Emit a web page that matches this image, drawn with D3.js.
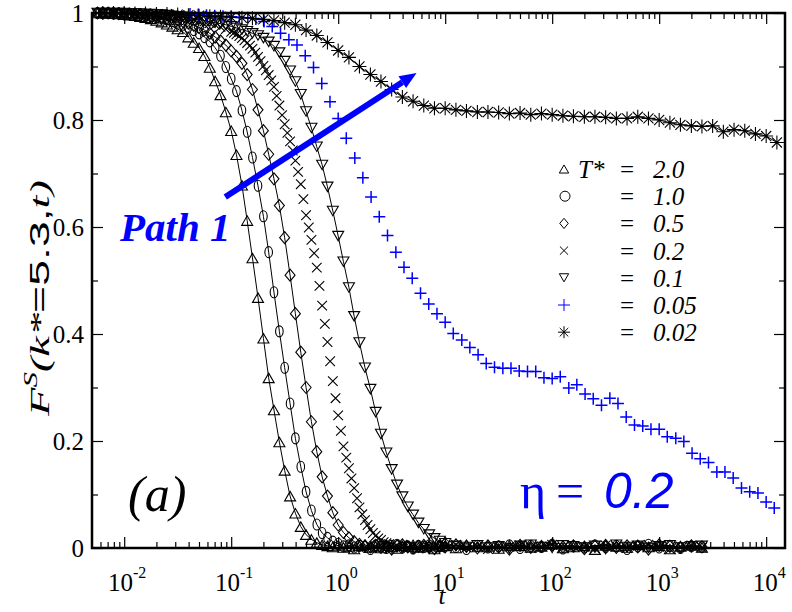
<!DOCTYPE html>
<html>
<head>
<meta charset="utf-8">
<script src="https://cdn.jsdelivr.net/npm/d3@7"></script>
<style>
  body { margin: 0; background: #fff; }
</style>
</head>
<body>
<svg id="chart" width="792" height="612"></svg>
<script>
"use strict";

// time grid shared by four of the black sets (20 per decade up to t=10, then 10 per decade)
var tGrid = [0.00562, 0.00631, 0.00708, 0.00794, 0.00891,
  0.0100, 0.0112, 0.0126, 0.0141, 0.0158, 0.0178, 0.0200, 0.0224, 0.0251, 0.0282,
  0.0316, 0.0355, 0.0398, 0.0447, 0.0501, 0.0562, 0.0631, 0.0708, 0.0794, 0.0891,
  0.100, 0.112, 0.126, 0.141, 0.158, 0.178, 0.200, 0.224, 0.251, 0.282,
  0.316, 0.355, 0.398, 0.447, 0.501, 0.562, 0.631, 0.708, 0.794, 0.891,
  1.00, 1.12, 1.26, 1.41, 1.58, 1.78, 2.00, 2.24, 2.51, 2.82,
  3.16, 3.55, 3.98, 4.47, 5.01, 5.62, 6.31, 7.08, 7.94, 8.91,
  10.0, 12.6, 15.8, 20.0, 25.1, 31.6, 39.8, 50.1, 63.1, 79.4,
  100, 126, 158, 200, 251, 316, 398, 501, 631, 794,
  1000, 1260, 1580, 2000, 2510];

// F^S(k,t) for T* = 2.0 (triangles up)
var fT20 = [1.000, 1.000, 0.999, 0.999, 0.998, 0.997, 0.996, 0.995, 0.993, 0.991,
  0.989, 0.986, 0.983, 0.979, 0.975, 0.970, 0.965, 0.955, 0.945, 0.935,
  0.920, 0.898, 0.873, 0.847, 0.815, 0.780, 0.735, 0.678, 0.612, 0.542,
  0.468, 0.392, 0.318, 0.258, 0.198, 0.145, 0.097, 0.065, 0.040, 0.025,
  0.016, 0.010, 0.006, 0.004, 0.002, 0.005, 0.001, 0.003, -0.002, 0.004,
  0.006, 0.001, 0.003, 0.000, 0.005, 0.002, -0.001, 0.004, 0.003, 0.006,
  0.001, 0.002, 0.005, -0.002, 0.003, 0.004, 0.000, 0.006, 0.002, 0.003,
  -0.001, 0.005, 0.004, 0.001, 0.003, 0.007, 0.000, 0.002, 0.004, -0.003,
  0.005, 0.003, 0.001, 0.006, 0.002, 0.004, -0.002, 0.003, 0.005, 0.001];

// T* = 1.0 (circles)
var fT10 = [1.000, 1.000, 1.000, 0.999, 0.999, 0.998, 0.998, 0.997, 0.996, 0.995,
  0.994, 0.992, 0.990, 0.988, 0.985, 0.982, 0.978, 0.974, 0.968, 0.962,
  0.955, 0.947, 0.935, 0.920, 0.899, 0.877, 0.854, 0.818, 0.778, 0.730,
  0.677, 0.620, 0.553, 0.478, 0.405, 0.337, 0.270, 0.205, 0.152, 0.105,
  0.070, 0.044, 0.028, 0.019, 0.012, 0.008, 0.003, 0.005, 0.001, 0.004,
  0.002, -0.002, 0.005, 0.003, 0.000, 0.004, 0.006, 0.001, 0.003, -0.001,
  0.004, 0.002, 0.005, 0.000, 0.003, 0.006, 0.002, -0.002, 0.004, 0.001,
  0.003, 0.005, 0.000, 0.004, 0.002, 0.006, -0.001, 0.003, 0.001, 0.005,
  0.002, 0.004, -0.002, 0.003, 0.006, 0.001, 0.004, 0.000, 0.003, 0.002];

// T* = 0.5 (diamonds)
var fT05 = [1.000, 1.000, 1.000, 1.000, 0.999, 0.999, 0.998, 0.998, 0.997, 0.996,
  0.995, 0.994, 0.993, 0.991, 0.989, 0.987, 0.984, 0.981, 0.977, 0.973,
  0.968, 0.962, 0.955, 0.948, 0.940, 0.929, 0.919, 0.906, 0.885, 0.857,
  0.819, 0.780, 0.736, 0.690, 0.640, 0.580, 0.510, 0.438, 0.366, 0.300,
  0.236, 0.180, 0.133, 0.097, 0.066, 0.043, 0.029, 0.019, 0.012, 0.007,
  0.004, 0.002, 0.005, 0.001, 0.003, -0.002, 0.004, 0.006, 0.002, 0.000,
  0.003, 0.005, 0.001, -0.001, 0.004, 0.002, 0.006, 0.003, 0.000, 0.004,
  0.002, -0.002, 0.005, 0.001, 0.003, 0.006, 0.002, 0.004, -0.001, 0.003,
  0.005, 0.001, 0.004, 0.002, -0.002, 0.006, 0.003, 0.001, 0.004, 0.002];

// T* = 0.2 (crosses) is sampled more finely through its decay
var tT02 = [0.00562, 0.00631, 0.00708, 0.00794, 0.00891,
  0.0100, 0.0112, 0.0126, 0.0141, 0.0158, 0.0178, 0.0200, 0.0224, 0.0251, 0.0282,
  0.0316, 0.0355, 0.0398, 0.0447, 0.0501, 0.0562, 0.0631, 0.0708, 0.0794, 0.0891,
  0.100, 0.106, 0.112, 0.119, 0.126, 0.133, 0.141, 0.150, 0.158, 0.168,
  0.178, 0.188, 0.200, 0.211, 0.224, 0.237, 0.251, 0.266, 0.282, 0.299,
  0.316, 0.335, 0.355, 0.376, 0.398, 0.422, 0.447, 0.473, 0.501, 0.531,
  0.562, 0.596, 0.631, 0.668, 0.708, 0.750, 0.794, 0.841, 0.891, 0.944,
  1.00, 1.06, 1.12, 1.19, 1.26, 1.33, 1.41, 1.50, 1.58, 1.68,
  1.78, 1.88, 2.00, 2.11, 2.24, 2.37, 2.51, 2.66, 2.82, 2.99, 3.16,
  3.55, 3.98, 4.47, 5.01, 5.62, 6.31, 7.08, 7.94, 8.91, 10.0,
  12.6, 15.8, 20.0, 25.1, 31.6, 39.8, 50.1, 63.1, 79.4,
  100, 126, 158, 200, 251, 316, 398, 501, 631, 794,
  1000, 1260, 1580, 2000, 2510];
var fT02 = [1.000, 1.000, 1.000, 1.000, 1.000,
  0.999, 0.999, 0.999, 0.998, 0.998, 0.997, 0.997, 0.996, 0.995, 0.994,
  0.993, 0.992, 0.990, 0.988, 0.986, 0.984, 0.981, 0.978, 0.974, 0.970,
  0.965, 0.963, 0.960, 0.957, 0.953, 0.949, 0.944, 0.939, 0.933, 0.926,
  0.918, 0.910, 0.901, 0.893, 0.884, 0.874, 0.862, 0.845, 0.827, 0.809,
  0.792, 0.776, 0.760, 0.743, 0.724, 0.703, 0.680, 0.652, 0.622, 0.599,
  0.576, 0.551, 0.524, 0.490, 0.453, 0.419, 0.385, 0.349, 0.312, 0.280,
  0.248, 0.219, 0.190, 0.169, 0.149, 0.130, 0.112, 0.093, 0.076, 0.063,
  0.052, 0.043, 0.035, 0.028, 0.023, 0.018, 0.015, 0.011, 0.009, 0.007, 0.005,
  0.003, 0.006, 0.001, 0.004, -0.001, 0.003, 0.005, 0.002, 0.000, 0.004,
  0.006, 0.001, 0.003, -0.002, 0.004, 0.002, 0.005, 0.000, 0.003,
  0.006, 0.001, 0.004, 0.002, -0.001, 0.005, 0.003, 0.000, 0.004, 0.006,
  0.002, -0.002, 0.003, 0.005, 0.001];

// T* = 0.1 (triangles down)
var fT01 = [1.000, 1.000, 1.000, 1.000, 1.000, 1.000, 0.999, 0.999, 0.999, 0.998,
  0.998, 0.997, 0.997, 0.996, 0.995, 0.994, 0.993, 0.991, 0.990, 0.988,
  0.986, 0.984, 0.982, 0.980, 0.978, 0.975, 0.972, 0.969, 0.966, 0.962,
  0.958, 0.953, 0.946, 0.938, 0.926, 0.910, 0.892, 0.872, 0.848, 0.816,
  0.785, 0.750, 0.716, 0.675, 0.630, 0.583, 0.535, 0.487, 0.433, 0.384,
  0.337, 0.297, 0.254, 0.213, 0.178, 0.147, 0.118, 0.096, 0.077, 0.062,
  0.047, 0.035, 0.025, 0.018, 0.013, 0.009, 0.004, 0.002, 0.005, 0.001,
  0.003, -0.001, 0.004, 0.006, 0.002, 0.000, 0.005, 0.003, 0.001, 0.004,
  -0.002, 0.006, 0.002, 0.004, 0.000, 0.003, 0.005, 0.001, 0.003, 0.004];

// T* = 0.05 (blue plus), its own times
var tT005 = [0.0412, 0.0492, 0.0588, 0.0702, 0.0838,
  0.100, 0.119, 0.143, 0.170, 0.203, 0.242, 0.289, 0.346, 0.412, 0.492, 0.588, 0.702, 0.838,
  1.00, 1.19, 1.43, 1.70, 2.03, 2.42, 2.89, 3.46, 4.12, 4.92, 5.88, 7.02, 8.38,
  10.0, 11.9, 14.3, 17.0, 20.3, 24.2, 28.9, 34.6, 41.2, 49.2, 58.8, 70.2, 83.8,
  100, 119, 143, 170, 203, 242, 289, 346, 412, 492, 588, 702, 838,
  1000, 1190, 1430, 1700, 2030, 2420, 2890, 3460, 4120, 4920, 5880, 7020, 8380,
  10000, 11900];
var fT005 = [0.998, 0.997, 0.996, 0.995, 0.994,
  0.993, 0.992, 0.991, 0.989, 0.984, 0.975, 0.962, 0.950, 0.940, 0.920, 0.898, 0.868, 0.834,
  0.803, 0.766, 0.729, 0.692, 0.656, 0.619, 0.584, 0.553, 0.525, 0.504, 0.476, 0.456, 0.438,
  0.422, 0.401, 0.389, 0.375, 0.361, 0.345, 0.338, 0.336, 0.336, 0.331, 0.330, 0.330, 0.318,
  0.317, 0.320, 0.299, 0.305, 0.288, 0.279, 0.267, 0.280, 0.270, 0.245, 0.230, 0.228, 0.222,
  0.222, 0.208, 0.205, 0.199, 0.177, 0.167, 0.160, 0.142, 0.142, 0.131, 0.112, 0.105, 0.103,
  0.086, 0.075];

// T* = 0.02 (stars), 10 per decade
var tT002 = [0.00631, 0.00794,
  0.0100, 0.0126, 0.0158, 0.0200, 0.0251, 0.0316, 0.0398, 0.0501, 0.0631, 0.0794,
  0.100, 0.126, 0.158, 0.200, 0.251, 0.316, 0.398, 0.501, 0.631, 0.794,
  1.00, 1.26, 1.58, 2.00, 2.51, 3.16, 3.98, 5.01, 6.31, 7.94,
  10.0, 12.6, 15.8, 20.0, 25.1, 31.6, 39.8, 50.1, 63.1, 79.4,
  100, 126, 158, 200, 251, 316, 398, 501, 631, 794,
  1000, 1260, 1580, 2000, 2510, 3160, 3980, 5010, 6310, 7940,
  10000, 12600];
var fT002 = [1.000, 1.000,
  1.000, 0.999, 0.999, 0.998, 0.998, 0.997, 0.996, 0.995, 0.994, 0.993,
  0.992, 0.991, 0.990, 0.988, 0.986, 0.982, 0.978, 0.968, 0.958, 0.945,
  0.930, 0.917, 0.900, 0.885, 0.872, 0.857, 0.843, 0.835, 0.827, 0.822,
  0.822, 0.819, 0.817, 0.815, 0.815, 0.814, 0.812, 0.813, 0.810, 0.812,
  0.810, 0.808, 0.807, 0.806, 0.806, 0.805, 0.803, 0.803, 0.806, 0.803,
  0.800, 0.795, 0.791, 0.789, 0.788, 0.789, 0.778, 0.782, 0.780, 0.774,
  0.770, 0.758];

// legend and ticks
var legendLabels = ["2.0", "1.0", "0.5", "0.2", "0.1", "0.05", "0.02"];
var xMajor = [1e-2, 1e-1, 1e0, 1e1, 1e2, 1e3, 1e4];
var xExp = ["-2", "-1", "0", "1", "2", "3", "4"];
var yMajor = [0, 0.2, 0.4, 0.6, 0.8, 1];
var yLabels = ["0", "0.2", "0.4", "0.6", "0.8", "1"];
var yMinor = [0.1, 0.3, 0.5, 0.7, 0.9];

// arrow annotation in data coordinates
var arrowFrom = [0.088, 0.656];
var arrowTo = [5.4, 0.888];

var SERIF = "Liberation Serif";
var SANS = "Liberation Sans";
var svg = d3.select("#chart");
var x = d3.scaleLog().domain([0.005, 15000]).range([92, 785]);
var y = d3.scaleLinear().domain([0, 1]).range([548, 13]);
var blue = "#0000ff";

// text helper
function label(parent, px, py, size, txt, opts) {
    opts = opts || {};
    var t = parent.append("text").attr("x", px).attr("y", py)
        .attr("font-size", size)
        .style("font-family", opts.family || SERIF)
        .attr("text-anchor", opts.anchor || "start")
        .attr("fill", opts.fill || "#000");
    if (opts.italic) t.attr("font-style", "italic");
    if (opts.bold) t.attr("font-weight", "bold");
    if (txt !== null) t.text(txt);
    return t;
}

// marker shapes centred on 0,0
function symbolPath(type, k) {
    k = k || 1;
    var w, h, s;
    switch (type) {
    case "triUp":
        w = 5.5 * k; h = 9.5 * k;
        return "M0," + (-h / 2) + "L" + w + "," + (h / 2) + "L" + (-w) + "," + (h / 2) + "Z";
    case "triDown":
        w = 5.5 * k; h = 9.5 * k;
        return "M" + (-w) + "," + (-h / 2) + "L" + w + "," + (-h / 2) + "L0," + (h / 2) + "Z";
    case "diamond":
        w = 5 * k; h = 6 * k;
        return "M0," + (-h) + "L" + w + ",0L0," + h + "L" + (-w) + ",0Z";
    case "cross":
        s = 4.8 * k;
        return "M" + (-s) + "," + (-s) + "L" + s + "," + s + "M" + (-s) + "," + s + "L" + s + "," + (-s);
    case "plus":
        s = 6 * k;
        return "M" + (-s) + ",0H" + s + "M0," + (-s) + "V" + s;
    case "star":
        s = 7 * k; var c = s * 0.72;
        return "M" + (-s) + ",0H" + s + "M0," + (-s) + "V" + s +
            "M" + (-c) + "," + (-c) + "L" + c + "," + c + "M" + (-c) + "," + c + "L" + c + "," + (-c);
    }
    return "";
}

var series = [
    {t: tGrid, f: fT20, sym: "triUp", line: true, color: "#000"},
    {t: tGrid, f: fT10, sym: "circle", line: true, color: "#000"},
    {t: tGrid, f: fT05, sym: "diamond", line: true, color: "#000"},
    {t: tT02, f: fT02, sym: "cross", line: false, color: "#000"},
    {t: tGrid, f: fT01, sym: "triDown", line: true, color: "#000"},
    {t: tT005, f: fT005, sym: "plus", line: false, color: blue},
    {t: tT002, f: fT002, sym: "star", line: true, color: "#000"}
];

var line = d3.line().x(function(d) { return x(d[0]); }).y(function(d) { return y(d[1]); });
var plot = svg.append("g").attr("class", "sets");

series.forEach(function(s) {
    var pts = d3.zip(s.t, s.f);
    var g = plot.append("g");
    if (s.line) {
        g.append("path").attr("d", line(pts))
            .attr("fill", "none").attr("stroke", s.color).attr("stroke-width", 1);
    }
    if (s.sym === "circle") {
        g.selectAll("ellipse").data(pts).enter().append("ellipse")
            .attr("cx", function(d) { return x(d[0]); })
            .attr("cy", function(d) { return y(d[1]); })
            .attr("rx", 3.8).attr("ry", 5.5)
            .attr("fill", "none").attr("stroke", s.color).attr("stroke-width", 1.1);
    } else {
        g.selectAll("path.m").data(pts).enter().append("path")
            .attr("class", "m")
            .attr("d", symbolPath(s.sym))
            .attr("transform", function(d) { return "translate(" + x(d[0]) + "," + y(d[1]) + ")"; })
            .attr("fill", "none").attr("stroke", s.color)
            .attr("stroke-width", s.sym === "plus" ? 1.5 : 1.1);
    }
});

// axes: inward ticks on all four sides
function minorLogTicks() {
    var out = [];
    for (var e = -3; e <= 4; e++) {
        for (var m = 2; m <= 9; m++) {
            var v = m * Math.pow(10, e);
            if (v > 0.005 && v < 15000) out.push(v);
        }
    }
    return out;
}
var xMinor = minorLogTicks();

function tickAxis(axisFn, scale, values, size, translate) {
    svg.append("g").attr("transform", translate)
        .call(axisFn(scale).tickValues(values).tickSize(size).tickFormat(""))
        .call(function(g) {
            g.select(".domain").remove();
            g.selectAll("line").attr("stroke", "#000").attr("stroke-width", 1.2);
        });
}
tickAxis(d3.axisBottom, x, xMajor, -11, "translate(0,548)");
tickAxis(d3.axisBottom, x, xMinor, -6, "translate(0,548)");
tickAxis(d3.axisTop, x, xMajor, -11, "translate(0,13)");
tickAxis(d3.axisTop, x, xMinor, -6, "translate(0,13)");
tickAxis(d3.axisLeft, y, yMajor, -11, "translate(92,0)");
tickAxis(d3.axisLeft, y, yMinor, -6, "translate(92,0)");
tickAxis(d3.axisRight, y, yMajor, -11, "translate(785,0)");
tickAxis(d3.axisRight, y, yMinor, -6, "translate(785,0)");

svg.append("rect").attr("x", 92).attr("y", 13).attr("width", 693).attr("height", 535)
    .attr("fill", "none").attr("stroke", "#000").attr("stroke-width", 2.5);

// tick labels
xMajor.forEach(function(v, i) {
    var tx = label(svg, x(v) + 3, 591, 25, null, {anchor: "middle"});
    tx.append("tspan").text("10");
    tx.append("tspan").attr("font-size", 16).attr("dy", -13).text(xExp[i]);
});
yMajor.forEach(function(v, i) {
    label(svg, 84, y(v) + 8.5, 25, yLabels[i], {anchor: "end"});
});

// axis titles
label(svg, 442, 604, 25, "t", {anchor: "middle", italic: true});

var yl = label(svg, 0, 0, 27, null, {anchor: "middle"})
    .attr("transform", "translate(49,298) rotate(-90)")
    .attr("textLength", 236).attr("lengthAdjust", "spacingAndGlyphs");
yl.append("tspan").attr("font-style", "italic").text("F");
yl.append("tspan").attr("font-style", "italic").attr("font-size", 18).attr("dy", -12).text("S");
yl.append("tspan").attr("font-style", "italic").attr("dy", 12).text("(k*");
yl.append("tspan").style("font-family", SANS).text("=5.3,");
yl.append("tspan").attr("font-style", "italic").text("t)");

// legend
var legSyms = ["triUp", "circle", "diamond", "cross", "triDown", "plus", "star"];
legendLabels.forEach(function(lab, k) {
    var base = 178 + 27.2 * k;
    var cy = base - 9;
    var col = legSyms[k] === "plus" ? blue : "#000";
    if (legSyms[k] === "circle") {
        svg.append("circle").attr("cx", 565).attr("cy", cy).attr("r", 5)
            .attr("fill", "none").attr("stroke", col).attr("stroke-width", 1);
    } else {
        var sc = legSyms[k] === "plus" ? 1 : 0.85;
        svg.append("path").attr("d", symbolPath(legSyms[k], sc))
            .attr("transform", "translate(564," + cy + ")")
            .attr("fill", "none").attr("stroke", col).attr("stroke-width", 1);
    }
    if (k === 0) label(svg, 578, base, 25, "T*", {italic: true});
    label(svg, 620, base, 25, "=");
    label(svg, 653, base, 25, lab, {italic: true});
});

// Path 1 arrow
var ax0 = x(arrowFrom[0]), ay0 = y(arrowFrom[1]);
var ax1 = x(arrowTo[0]), ay1 = y(arrowTo[1]);
var ang = Math.atan2(ay1 - ay0, ax1 - ax0);
var headL = 17, headW = 7;
var bx = ax1 - headL * Math.cos(ang), by = ay1 - headL * Math.sin(ang);
svg.append("line").attr("x1", ax0).attr("y1", ay0).attr("x2", bx).attr("y2", by)
    .attr("stroke", blue).attr("stroke-width", 6);
svg.append("path")
    .attr("d", "M" + ax1 + "," + ay1 +
        "L" + (bx + headW * Math.sin(ang)) + "," + (by - headW * Math.cos(ang)) +
        "L" + (bx - headW * Math.sin(ang)) + "," + (by + headW * Math.cos(ang)) + "Z")
    .attr("fill", blue);

label(svg, 120, 241, 41, "Path 1", {italic: true, bold: true, fill: blue});

// panel label and packing fraction
label(svg, 128, 511, 50, "(a)", {italic: true});

var eta = label(svg, 0, 508, 50, null, {fill: blue});
eta.append("tspan").attr("x", 520).text("η");
eta.append("tspan").attr("x", 556).text("=");
eta.append("tspan").attr("x", 604).attr("font-style", "italic")
    .style("font-family", SANS).text("0.2");
</script>
</body>
</html>
